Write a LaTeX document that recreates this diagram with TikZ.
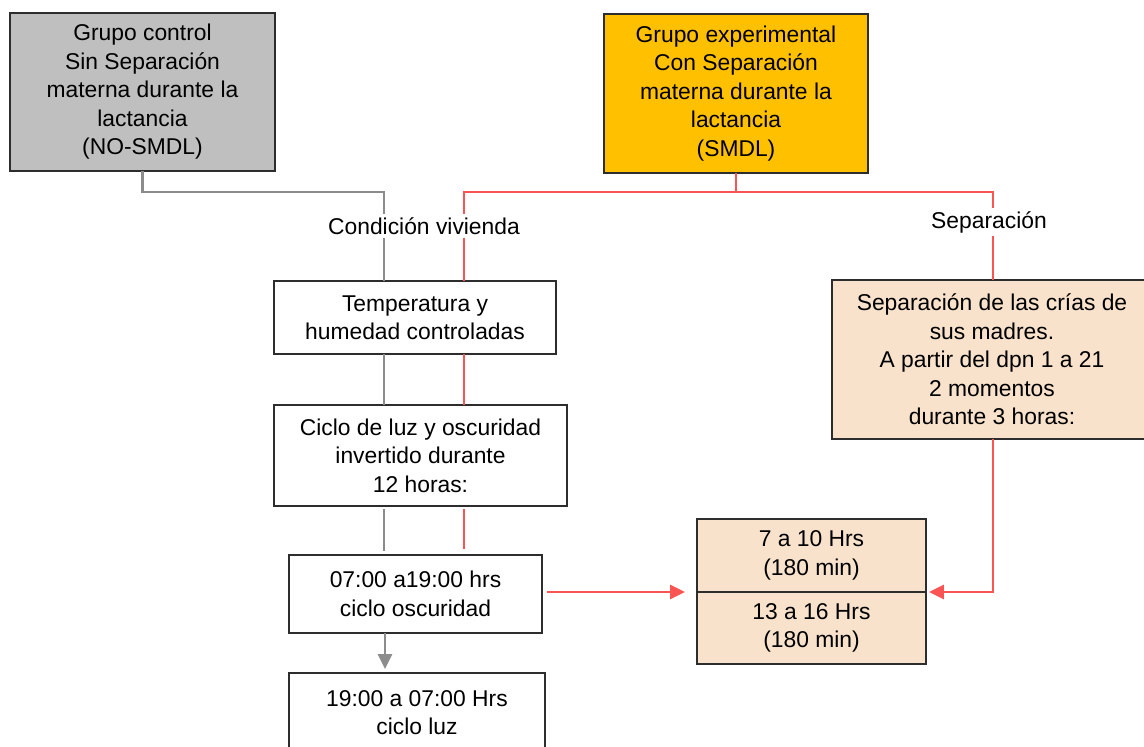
\documentclass[tikz,border=0pt]{standalone}
\usepackage{fontspec}
\setmainfont{Liberation Sans}
\usetikzlibrary{arrows.meta}

\definecolor{grisbox}{RGB}{191,191,191}
\definecolor{naranja}{RGB}{255,192,0}
\definecolor{durazno}{RGB}{248,226,203}
\definecolor{rojo}{RGB}{250,85,85}
\definecolor{grislinea}{RGB}{140,140,140}
\definecolor{borde}{RGB}{45,45,45}

\begin{document}
\begin{tikzpicture}[
    x=0.02cm, y=-0.02cm,
    font=\fontsize{13}{16.2}\selectfont,
    caja/.style={draw=borde, line width=1.3pt, align=center, inner sep=0pt, outer sep=0pt},
    lineagris/.style={color=grislinea, line width=1.6pt},
    linearoja/.style={color=rojo, line width=1.6pt},
    flecha/.style={-{Triangle[length=8.5pt,width=8pt]}},
    etiqueta/.style={fill=white, inner sep=2pt},
  ]
  \useasboundingbox (0,0) rectangle (1144,747);

  % Grupos
  \node[caja, fill=grisbox, minimum width=265*0.02cm, minimum height=158*0.02cm]
    (ctrl) at (142.5,92) {Grupo control\\Sin Separación\\materna durante la\\lactancia\\(NO-SMDL)};
  \node[caja, fill=naranja, minimum width=264*0.02cm, minimum height=159*0.02cm]
    (expt) at (736,93.5) {Grupo experimental\\Con Separación\\materna durante la\\lactancia\\(SMDL)};

  % Condicion vivienda
  \node[caja, minimum width=282*0.02cm, minimum height=73*0.02cm]
    (temp) at (415,317.5) {Temperatura y\\humedad controladas};
  \node[caja, minimum width=293*0.02cm, minimum height=101*0.02cm]
    (ciclo) at (420.5,455.5) {Ciclo de luz y oscuridad\\invertido durante\\12 horas:};
  \node[caja, minimum width=253*0.02cm, minimum height=78*0.02cm]
    (oscur) at (415.5,594) {07:00 a19:00 hrs\\ciclo oscuridad};
  \node[caja, minimum width=256*0.02cm, minimum height=79*0.02cm]
    (luz) at (417,712.5) {19:00 a 07:00 Hrs\\ciclo luz};

  % Separacion
  \node[caja, fill=durazno, minimum width=320*0.02cm, minimum height=159*0.02cm]
    (sep) at (992,359.5) {Separación de las crías de\\sus madres.\\A partir del dpn 1 a 21\\2 momentos\\durante 3 horas:};
  \node[caja, fill=durazno, minimum width=229*0.02cm, minimum height=73*0.02cm]
    (h1) at (811.5,555.5) {7 a 10 Hrs\\(180 min)};
  \node[caja, fill=durazno, minimum width=229*0.02cm, minimum height=72*0.02cm]
    (h2) at (811.5,628) {13 a 16 Hrs\\(180 min)};

  % Conectores
  \coordinate (g1) at (384,192);
  \coordinate (g2) at (385,0);
  \coordinate (r1) at (464,192);
  \coordinate (r2) at (993,192);

  \draw[lineagris] (ctrl.south) |- (g1) -- (g1 |- temp.north);
  \draw[linearoja] (expt.south) -- (expt.south |- r1);
  \draw[linearoja] (r1 |- temp.north) -- (r1) -- (r2) -- (r2 |- sep.north);

  \draw[lineagris] (g1 |- temp.south) -- (g1 |- ciclo.north);
  \draw[linearoja] (r1 |- temp.south) -- (r1 |- ciclo.north);
  \draw[lineagris, shorten <=0.06cm, shorten >=0.08cm] (g1 |- ciclo.south) -- (g1 |- oscur.north);
  \draw[linearoja, shorten <=0.06cm, shorten >=0.12cm] (r1 |- ciclo.south) -- (r1 |- oscur.north);

  \draw[lineagris, flecha, shorten >=0.08cm] (g2 |- oscur.south) -- (g2 |- luz.north);
  \draw[linearoja, flecha, shorten <=0.1cm, shorten >=0.24cm] (oscur.east |- h1.south) -- (h1.south west);
  \draw[linearoja, flecha, shorten >=0.06cm] (r2 |- sep.south) |- (h1.south east);

  % Etiquetas
  \node[etiqueta] (cond) at (424,226) {Condición vivienda};
  \node[etiqueta] (sepl) at (989,222) {Separación};
\end{tikzpicture}
\end{document}
